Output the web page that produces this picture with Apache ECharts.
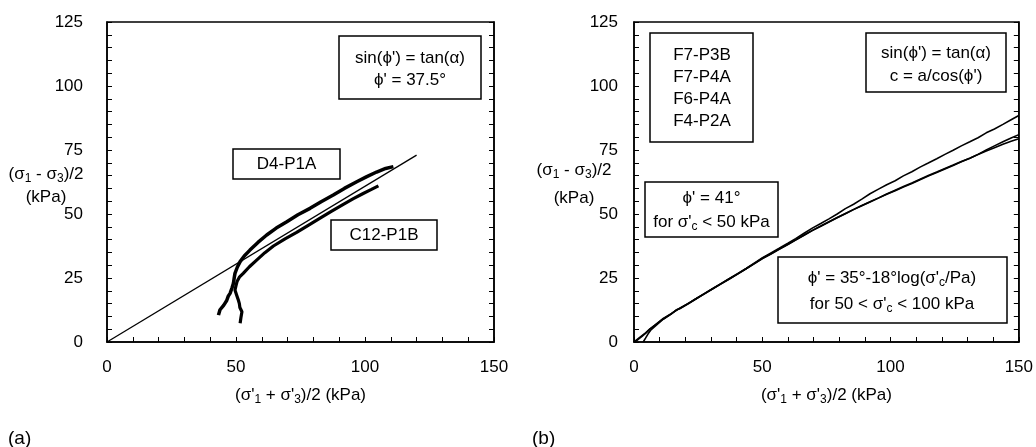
<!DOCTYPE html>
<html><head><meta charset="utf-8">
<script src="https://cdn.jsdelivr.net/npm/echarts@6/dist/echarts.min.js"></script>
<style>html,body{margin:0;padding:0;background:#fff}#c{width:1036px;height:447px}</style>
</head><body><div id="c"></div>
<script>
// ---- data (kPa) ----
const failureLineA = [[0, 0], [120, 73]];
const d4p1a = [[43.2,10.5],[43.8,12.6],[44.5,12.1],[45.2,14.3],[45.7,15.1],[46.4,16.2],[47.0,17.9],[47.7,19.0],[48.4,21.0],[49.0,22.9],[49.3,25.0],[49.6,26.8],[50.5,29.2],[51.6,31.4],[53.2,33.6],[55.4,35.9],[58.5,38.9],[61.9,41.8],[65.6,44.5],[69.7,47.0],[74.0,49.7],[78.7,52.2],[83.0,54.8],[87.7,57.4],[92.0,60.0],[96.8,62.6],[100.5,64.5],[104.5,66.4],[108.0,67.8],[111.0,68.5]];
const c12p1b = [[51.6,7.3],[51.9,9.5],[52.3,11.8],[51.5,13.5],[51.3,15.0],[50.9,16.4],[50.2,18.5],[49.6,20.3],[50.0,22.0],[50.4,23.6],[51.3,25.3],[52.8,26.8],[55.2,29.4],[58.0,32.0],[61.2,34.9],[64.5,37.5],[69.0,40.3],[73.5,42.8],[78.0,45.6],[82.6,48.4],[87.1,51.1],[91.6,53.8],[95.5,56.0],[99.3,58.0],[102.5,59.6],[105.2,61.0]];
const curveB1 = [[0,0],[1.5,1.2],[3,2.4],[4.5,3.6],[6.2,5.1],[8.5,6.8],[11.4,9.0],[14.5,11.0],[17.8,13.2],[21,15.0],[24.3,17.0],[27.5,19.0],[30.7,20.9],[34,22.9],[37.2,24.8],[40.5,26.8],[43.7,28.7],[47,30.9],[50.1,32.9],[53.4,34.8],[56.6,36.6],[60,38.6],[63,40.4],[66.3,42.5],[69.5,44.5],[72.8,46.3],[76,48.1],[79.2,50.0],[82.4,52.1],[85.6,53.8],[88.8,55.8],[92,57.9],[95.3,59.7],[98.5,61.4],[101.8,63.0],[105,64.9],[108.3,66.5],[111.5,68.3],[114.7,69.9],[118,71.6],[121.2,73.3],[124.4,74.9],[127.6,76.6],[130.9,78.2],[134.1,79.8],[137.3,81.7],[140.5,83.2],[143.8,85.0],[147,86.8],[150,88.5]];
const curveB2 = [[0,0],[1.5,0.9],[3,2.1],[4.5,3.4],[6.2,5.0],[8.5,6.9],[11.4,9.2],[14.5,11.1],[16.5,12.4],[17.8,13.1],[21,15.0],[24.3,17.0],[27.5,18.8],[30.7,20.8],[34,22.7],[37.2,24.6],[40.5,26.6],[43.7,28.6],[47,30.6],[50.1,32.6],[53.4,34.4],[56.6,36.2],[60,38.1],[63,39.8],[66.3,41.7],[69.5,43.5],[72.8,45.2],[76,46.9],[79.2,48.5],[82.4,50.1],[85.6,51.7],[88.8,53.2],[92,54.7],[95.3,56.2],[98.5,57.7],[101.8,59.1],[105,60.5],[108.3,61.9],[111.5,63.4],[114.7,64.8],[118,66.2],[121.2,67.6],[124.4,68.9],[127.6,70.4],[130.9,71.8],[134.1,73.3],[137.3,75.0],[140.5,76.6],[143.8,78.2],[147,79.7],[150,81.0]];
const curveB3 = [[3.6,0],[4.5,1.5],[5.5,3.2],[6.5,4.6],[8.5,6.4],[11.4,8.9],[14.5,10.9],[16.5,12.6],[17.8,13.0],[21,14.8],[24.3,16.9],[27.5,18.9],[30.7,20.8],[34,22.8],[37.2,24.7],[40.5,26.6],[43.7,28.6],[47,30.7],[50.1,32.7],[53.4,34.5],[56.6,36.3],[60,38.2],[63,39.9],[66.3,41.8],[69.5,43.6],[72.8,45.3],[76,47.0],[79.2,48.6],[82.4,50.2],[85.6,51.8],[88.8,53.3],[92,54.8],[95.3,56.3],[98.5,57.8],[101.8,59.3],[105,60.7],[108.3,62.1],[111.5,63.6],[114.7,65.0],[118,66.4],[121.2,67.8],[124.4,69.1],[127.6,70.5],[130.9,71.8],[134.1,73.2],[137.3,74.6],[140.5,75.9],[143.8,77.2],[147,78.4],[150,79.4]];
const specimenNamesB = ['F7-P3B', 'F7-P4A', 'F6-P4A', 'F4-P2A'];

const FONT = '"Liberation Sans", Arial, sans-serif';
const FS = 17;
const chart = echarts.init(document.getElementById('c'));

function xAx(grid) {
  return {
    type: 'value', gridIndex: grid, min: 0, max: 150, interval: 50,
    name: '(σ\'{s|1} + σ\'{s|3})/2 (kPa)', nameLocation: 'middle', nameGap: 43,
    nameTextStyle: { color: '#000', fontFamily: FONT, fontSize: FS,
      rich: { s: { fontSize: 12, fontFamily: FONT, color: '#000', verticalAlign: 'bottom', lineHeight: 21 } } },
    axisLine: { show: true, lineStyle: { color: '#000', width: 1.5 } },
    axisTick: { show: true, inside: true, length: 5, lineStyle: { color: '#000' } },
    minorTick: { show: true, splitNumber: 5, length: 5, lineStyle: { color: '#000' } },
    axisLabel: { color: '#000', fontFamily: FONT, fontSize: FS, margin: 17 },
    splitLine: { show: false }, minorSplitLine: { show: false }
  };
}
function yAx(grid, pos, margin) {
  return {
    type: 'value', gridIndex: grid, position: pos, min: 0, max: 125, interval: 25,
    axisLine: { show: true, lineStyle: { color: '#000', width: 1.5 } },
    axisTick: { show: true, inside: true, length: 5, lineStyle: { color: '#000' } },
    minorTick: { show: true, splitNumber: 5, length: 5, lineStyle: { color: '#000' } },
    axisLabel: { show: pos === 'left', color: '#000', fontFamily: FONT, fontSize: FS, margin: margin },
    splitLine: { show: false }, minorSplitLine: { show: false }
  };
}
function ser(data, xi, yi, w) {
  return { type: 'line', xAxisIndex: xi, yAxisIndex: yi, data: data, showSymbol: false, symbol: 'none',
    lineStyle: { color: '#000', width: w }, silent: true, animation: false, z: 3 };
}
function box(x, y, w, h) {
  return { type: 'rect', z: 100, shape: { x: x, y: y, width: w, height: h },
    style: { fill: '#fff', stroke: '#000', lineWidth: 1.5 } };
}
const richSub = { s: { fontSize: 12, fontFamily: FONT, fill: '#000', verticalAlign: 'bottom', lineHeight: 21 } };
function txt(x, y, s, align, size) {
  return { type: 'text', z: 101, x: x, y: y,
    style: { text: s, fill: '#000', font: (size || FS) + 'px ' + FONT, align: align || 'center', verticalAlign: 'middle', rich: richSub } };
}

const graphics = [
  box(339, 36, 142, 63), txt(410, 58, 'sin(ϕ\') = tan(α)'), txt(410, 80, 'ϕ\' = 37.5°'),
  box(233, 149, 107, 30), txt(286.5, 164, 'D4-P1A'),
  box(331, 220, 106, 30), txt(384, 235, 'C12-P1B'),
  box(650, 33, 103, 109),
  txt(702, 55, specimenNamesB[0]), txt(702, 77, specimenNamesB[1]), txt(702, 99, specimenNamesB[2]), txt(702, 121, specimenNamesB[3]),
  box(866, 33, 140, 59), txt(936, 53.5, 'sin(ϕ\') = tan(α)'), txt(936, 76.5, 'c = a/cos(ϕ\')'),
  box(645, 182, 133, 55), txt(711.5, 198, 'ϕ\' = 41°'), txt(711.5, 222, 'for σ\'{s|c} < 50 kPa'),
  box(778, 257, 229, 66), txt(892, 278, 'ϕ\' = 35°-18°log(σ\'{s|c}/Pa)'), txt(892, 304, 'for 50 < σ\'{s|c} < 100 kPa'),
  txt(46, 174, '(σ{s|1} - σ{s|3})/2'), txt(46, 197, '(kPa)'),
  txt(574, 170, '(σ{s|1} - σ{s|3})/2'), txt(574, 198, '(kPa)'),
  txt(8, 439, '(a)', 'left', 19), txt(532, 439, '(b)', 'left', 19)
];

chart.setOption({
  animation: false,
  backgroundColor: '#fff',
  grid: [
    { left: 107, top: 22, width: 387, height: 320, show: true, borderColor: '#000', borderWidth: 1.5, backgroundColor: 'transparent' },
    { left: 634, top: 22, width: 387, height: 320, show: true, borderColor: '#000', borderWidth: 1.5, backgroundColor: 'transparent' }
  ],
  xAxis: [xAx(0), xAx(1)],
  yAxis: [yAx(0, 'left', 24), yAx(0, 'right', 8), yAx(1, 'left', 16), yAx(1, 'right', 8)],
  series: [
    ser(failureLineA, 0, 0, 1.3),
    ser(d4p1a, 0, 0, 3.5),
    ser(c12p1b, 0, 0, 3.2),
    ser(curveB1, 1, 2, 1.6),
    ser(curveB2, 1, 2, 1.6),
    ser(curveB3, 1, 2, 1.6)
  ],
  graphic: graphics
});
</script></body></html>
